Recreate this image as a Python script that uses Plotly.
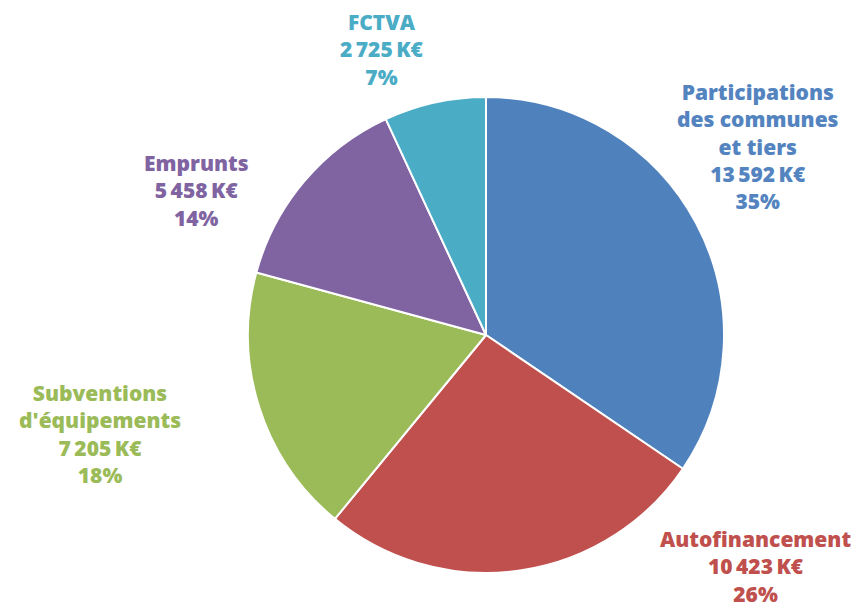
import plotly.graph_objects as go

labels = ["Participations<br>des communes<br>et tiers", "Autofinancement",
          "Subventions<br>d'équipements", "Emprunts", "FCTVA"]
values = [13592, 10423, 7205, 5458, 2725]
percents = [35, 26, 18, 14, 7]
colors = ["#4F81BD", "#C0504D", "#9BBB59", "#8064A2", "#4BACC6"]
text_colors = ["#5484C0", "#C0504D", "#9BBB59", "#8064A2", "#4BACC6"]
# label anchor positions (pixels from top-left) for the outside labels
label_x = [758, 755, 100, 196, 382]
label_y = [146, 566, 434, 190, 50]

W, H = 862, 608
OFF = 8  # page body margin
cx, cy, r = 486 - OFF, 335 - OFF, 238

def fmt(v):
    return f"{v:,}".replace(",", "\u2009")

fig = go.Figure(go.Pie(
    labels=[l.replace("<br>", " ") for l in labels],
    values=values,
    marker=dict(colors=colors, line=dict(color="white", width=2)),
    sort=False,
    direction="clockwise",
    rotation=0,
    textinfo="none",
    hoverinfo="label+value+percent",
    domain=dict(x=[(cx - r) / W, (cx + r) / W],
                y=[1 - (cy + r) / H, 1 - (cy - r) / H]),
    showlegend=False,
))

for lab, v, p, c, x, y in zip(labels, values, percents, text_colors, label_x, label_y):
    fig.add_annotation(
        x=(x - OFF) / W, y=1 - (y - OFF) / H, xref="paper", yref="paper",
        text=f"{lab}<br>{fmt(v)}\u2009K€<br>{p}%",
        showarrow=False, align="center", xanchor="center", yanchor="middle",
        borderpad=0,
        font=dict(family="Open Sans", size=21, color=c, weight=800),
    )

fig.update_layout(
    width=W, height=H,
    margin=dict(l=0, r=0, t=0, b=0),
    paper_bgcolor="white", plot_bgcolor="white",
)

fig.write_html("out.html")
